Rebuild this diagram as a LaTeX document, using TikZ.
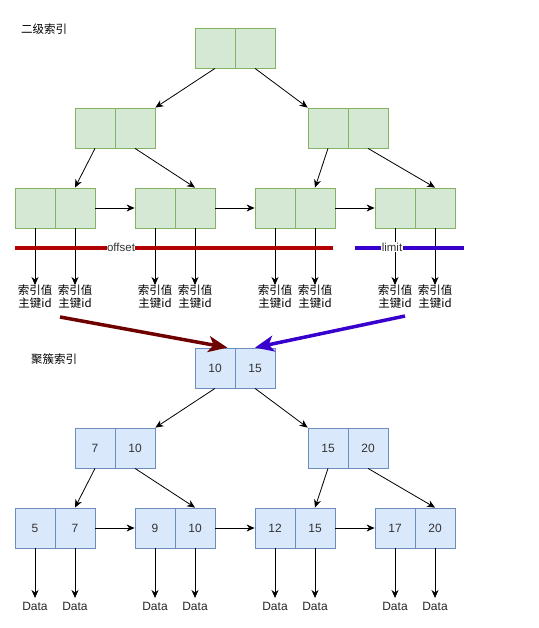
\documentclass[tikz,border=0pt]{standalone}
\usepackage{fontspec}
\setmainfont{Liberation Sans}
\newfontfamily\cjk{Noto Sans CJK SC}
\usetikzlibrary{arrows.meta}
\definecolor{gfill}{HTML}{D5E8D4}
\definecolor{gline}{HTML}{82B366}
\definecolor{bfill}{HTML}{DAE8FC}
\definecolor{bline}{HTML}{6C8EBF}
\definecolor{redline}{HTML}{B20000}
\definecolor{darkred}{HTML}{6F0000}
\definecolor{violet}{HTML}{3700CC}
\tikzset{
  gcell/.style={draw=gline, fill=gfill, minimum width=40pt, minimum height=40pt, inner sep=0pt, line width=0.8pt},
  bcell/.style={draw=bline, fill=bfill, minimum width=40pt, minimum height=40pt, inner sep=0pt, line width=0.8pt, font=\fontsize{12}{14}\selectfont, text=black!80},
  arr/.style={-{Stealth[length=8pt,width=7pt,inset=2.5pt]}, line width=0.8pt},
  lbl/.style={font=\cjk\fontsize{11.5}{13}\selectfont, align=center, inner sep=0pt, anchor=north},
  dlbl/.style={font=\fontsize{12}{14}\selectfont, inner sep=0pt, anchor=north, text=black!85},
  title/.style={font=\cjk\fontsize{11.5}{13}\selectfont, inner sep=0pt},
  bigarr/.style={-{Stealth[length=19pt,width=16pt,inset=5pt]}, line width=3.5pt},
  band/.style={line width=4pt},
}
\newcommand\twocell[6]{%
  \node[#4] (#1a) at (#2+20,#3+20) {#5};
  \node[#4] (#1b) at (#2+60,#3+20) {#6};
}
\begin{document}
\begin{tikzpicture}[x=1pt,y=-1pt]
\useasboundingbox (0,0) rectangle (538,628);

% ---------- secondary index ----------
\node[title] (t1) at (44,29) {二级索引};
\twocell{g0}{195}{28}{gcell}{}{}
\twocell{g1}{75}{108}{gcell}{}{}
\twocell{g2}{308}{108}{gcell}{}{}
\twocell{g31}{15}{188}{gcell}{}{}
\twocell{g32}{135}{188}{gcell}{}{}
\twocell{g33}{255}{188}{gcell}{}{}
\twocell{g34}{375}{188}{gcell}{}{}

\draw[arr] (g0a.south) -- (g1b.north east);
\draw[arr] (g0b.south) -- (g2a.north west);
\draw[arr] (g1a.south) -- (g31b.north);
\draw[arr] (g1b.south) -- (g32b.north);
\draw[arr] (g2a.south) -- (g33b.north);
\draw[arr] (g2b.south) -- (g34b.north);
\draw[arr] (g31b.east) -- (g32a.west);
\draw[arr] (g32b.east) -- (g33a.west);
\draw[arr] (g33b.east) -- (g34a.west);

\foreach \n/\x in {31a/35,31b/75,32a/155,32b/195,33a/275,33b/315,34a/395,34b/435}{
  \node[lbl] (k\n) at (\x,285) {索引值\\主键id};
}
\foreach \n in {31a,31b,32a,32b,33a,33b,34a,34b}{
  \draw[arr] (g\n.south) -- (k\n.north);
}

% offset / limit bands
\coordinate (ro1) at (15,248);
\coordinate (ro2) at (333,248);
\coordinate (bl1) at (355,248);
\coordinate (bl2) at (464,248);
\draw[band, redline] (ro1) -- (ro2);
\draw[band, violet] (bl1) -- (bl2);
\node[fill=white, inner sep=0.5pt, font=\fontsize{11.5}{13}\selectfont, text=black!80] (off) at (121,247) {offset};
\node[fill=white, inner sep=0.5pt, font=\fontsize{11.5}{13}\selectfont, text=black!80] (lim) at (392,247) {limit};

% ---------- clustered index ----------
\node[title] (t2) at (54,359) {聚簇索引};
\twocell{c0}{195}{348}{bcell}{10}{15}
\twocell{c1}{75}{428}{bcell}{7}{10}
\twocell{c2}{308}{428}{bcell}{15}{20}
\twocell{c31}{15}{508}{bcell}{5}{7}
\twocell{c32}{135}{508}{bcell}{9}{10}
\twocell{c33}{255}{508}{bcell}{12}{15}
\twocell{c34}{375}{508}{bcell}{17}{20}

\draw[arr] (c0a.south) -- (c1b.north east);
\draw[arr] (c0b.south) -- (c2a.north west);
\draw[arr] (c1a.south) -- (c31b.north);
\draw[arr] (c1b.south) -- (c32b.north);
\draw[arr] (c2a.south) -- (c33b.north);
\draw[arr] (c2b.south) -- (c34b.north);
\draw[arr] (c31b.east) -- (c32a.west);
\draw[arr] (c32b.east) -- (c33a.west);
\draw[arr] (c33b.east) -- (c34a.west);

\foreach \n/\x in {31a/35,31b/75,32a/155,32b/195,33a/275,33b/315,34a/395,34b/435}{
  \node[dlbl] (d\n) at (\x,602) {Data};
}
\foreach \n in {31a,31b,32a,32b,33a,33b,34a,34b}{
  \draw[arr] (c\n.south) -- ([yshift=4pt]d\n.north);
}

% ---------- lookup arrows ----------
\coordinate (rs) at (60,317);
\coordinate (re) at ([xshift=-8pt]c0a.north east);
\coordinate (vs) at (405,316);
\coordinate (ve) at (c0b.north);
\draw[bigarr, darkred] (rs) -- (re);
\draw[bigarr, violet] (vs) -- (ve);
\end{tikzpicture}
\end{document}
